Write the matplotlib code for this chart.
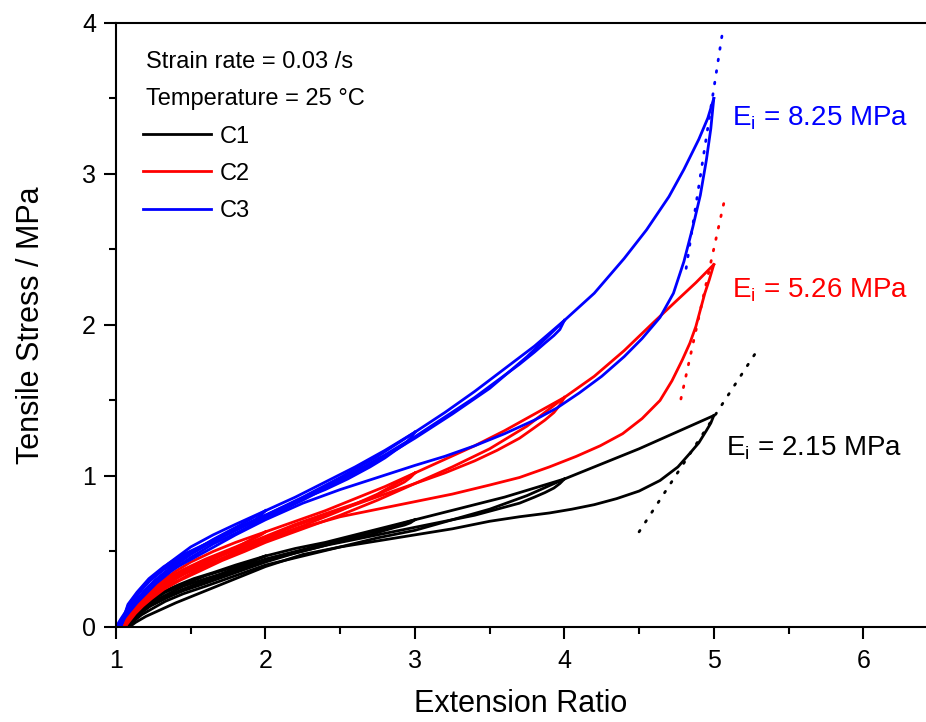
import matplotlib

matplotlib.use("Agg")
import matplotlib.pyplot as plt
from matplotlib.ticker import MultipleLocator

# values: extension ratio vs tensile stress (MPa)
# per compound: first loading, unloading from each max ratio (2, 3, 4, 5)
# and the reloading passes (up to the previous max ratio)
C1_LOAD_X = [1.06, 1.09, 1.13, 1.18, 1.25, 1.33, 1.42, 1.52, 1.65, 1.80, 2.00,
             2.20, 2.40, 2.60, 2.80, 3.00, 3.20, 3.40, 3.60, 3.80, 4.00, 4.25,
             4.50, 4.75, 5.00]
C1_LOAD_Y = [0.00, 0.04, 0.09, 0.14, 0.19, 0.24, 0.28, 0.32, 0.36, 0.41, 0.47,
             0.52, 0.56, 0.61, 0.66, 0.71, 0.76, 0.81, 0.86, 0.92, 0.98, 1.08,
             1.18, 1.29, 1.40]
C1_UNLOAD_X = [
    [2.00, 1.97, 1.93, 1.87, 1.80, 1.70, 1.60, 1.45, 1.33, 1.23, 1.16, 1.11, 1.07],
    [3.00, 2.97, 2.93, 2.87, 2.80, 2.70, 2.55, 2.40, 2.20, 2.00, 1.80, 1.60,
     1.45, 1.33, 1.23, 1.16, 1.11, 1.07],
    [4.00, 3.97, 3.93, 3.87, 3.80, 3.70, 3.55, 3.40, 3.20, 3.00, 2.80, 2.60,
     2.40, 2.20, 2.00, 1.80, 1.60, 1.45, 1.33, 1.23, 1.16, 1.11, 1.08],
    [5.00, 4.98, 4.95, 4.90, 4.84, 4.76, 4.64, 4.50, 4.35, 4.20, 4.05, 3.90,
     3.70, 3.50, 3.25, 3.00, 2.75, 2.50, 2.25, 2.00, 1.80, 1.60, 1.50, 1.40,
     1.30, 1.20, 1.13, 1.09],
]
C1_UNLOAD_Y = [
    [0.47, 0.46, 0.44, 0.42, 0.40, 0.37, 0.34, 0.28, 0.23, 0.17, 0.12, 0.07, 0.00],
    [0.71, 0.69, 0.675, 0.66, 0.64, 0.61, 0.58, 0.55, 0.50, 0.45, 0.38, 0.32,
     0.27, 0.21, 0.16, 0.11, 0.06, 0.00],
    [0.98, 0.95, 0.92, 0.89, 0.86, 0.82, 0.78, 0.74, 0.70, 0.66, 0.62, 0.58,
     0.54, 0.49, 0.44, 0.37, 0.30, 0.25, 0.19, 0.14, 0.09, 0.05, 0.00],
    [1.40, 1.35, 1.30, 1.22, 1.15, 1.06, 0.97, 0.90, 0.85, 0.81, 0.78, 0.755,
     0.73, 0.70, 0.65, 0.61, 0.57, 0.53, 0.48, 0.40, 0.32, 0.24, 0.20, 0.16,
     0.115, 0.07, 0.03, 0.00],
]
C1_RELOAD_X = [
    [1.07, 1.11, 1.16, 1.23, 1.33, 1.45, 1.60, 1.80, 2.00],
    [1.07, 1.11, 1.16, 1.23, 1.33, 1.45, 1.60, 1.80, 2.00, 2.20, 2.40, 2.60,
     2.80, 3.00],
    [1.08, 1.12, 1.17, 1.24, 1.33, 1.45, 1.60, 1.80, 2.00, 2.25, 2.50, 2.75,
     3.00, 3.25, 3.50, 3.75, 4.00],
]
C1_RELOAD_Y = [
    [0.00, 0.05, 0.10, 0.15, 0.20, 0.25, 0.31, 0.39, 0.47],
    [0.00, 0.04, 0.09, 0.14, 0.19, 0.24, 0.29, 0.36, 0.43, 0.49, 0.54, 0.60,
     0.65, 0.71],
    [0.00, 0.04, 0.08, 0.12, 0.17, 0.22, 0.27, 0.34, 0.41, 0.47, 0.53, 0.59,
     0.64, 0.71, 0.78, 0.87, 0.98],
]

C2_LOAD_X = [1.04, 1.07, 1.11, 1.16, 1.22, 1.30, 1.40, 1.50, 1.65, 1.80, 2.00,
             2.20, 2.40, 2.60, 2.80, 3.00, 3.20, 3.40, 3.60, 3.80, 4.00, 4.20,
             4.40, 4.60, 4.75, 4.88, 5.00]
C2_LOAD_Y = [0.00, 0.05, 0.11, 0.17, 0.23, 0.30, 0.37, 0.43, 0.50, 0.56, 0.63,
             0.70, 0.77, 0.85, 0.93, 1.02, 1.11, 1.20, 1.30, 1.41, 1.52, 1.66,
             1.83, 2.02, 2.16, 2.28, 2.40]
C2_UNLOAD_X = [
    [2.00, 1.97, 1.93, 1.87, 1.80, 1.70, 1.60, 1.45, 1.32, 1.22, 1.15, 1.10, 1.06],
    [3.00, 2.97, 2.93, 2.87, 2.80, 2.70, 2.55, 2.40, 2.20, 2.00, 1.80, 1.60,
     1.45, 1.32, 1.22, 1.15, 1.10, 1.06],
    [4.00, 3.97, 3.93, 3.87, 3.80, 3.70, 3.55, 3.40, 3.20, 3.00, 2.80, 2.60,
     2.40, 2.20, 2.00, 1.80, 1.60, 1.45, 1.32, 1.22, 1.15, 1.10, 1.06],
    [5.00, 4.97, 4.94, 4.91, 4.88, 4.84, 4.79, 4.72, 4.64, 4.52, 4.39, 4.24,
     4.08, 3.90, 3.70, 3.50, 3.25, 3.00, 2.75, 2.50, 2.25, 2.00, 1.80, 1.60,
     1.45, 1.32, 1.22, 1.15, 1.10, 1.06],
]
C2_UNLOAD_Y = [
    [0.63, 0.61, 0.59, 0.56, 0.53, 0.49, 0.45, 0.38, 0.31, 0.24, 0.17, 0.10, 0.00],
    [1.02, 0.99, 0.96, 0.93, 0.90, 0.85, 0.80, 0.75, 0.68, 0.60, 0.52, 0.44,
     0.37, 0.30, 0.23, 0.16, 0.09, 0.00],
    [1.52, 1.47, 1.42, 1.37, 1.32, 1.25, 1.17, 1.10, 1.02, 0.95, 0.88, 0.81,
     0.74, 0.67, 0.59, 0.51, 0.43, 0.36, 0.29, 0.22, 0.15, 0.09, 0.00],
    [2.40, 2.30, 2.21, 2.10, 1.99, 1.88, 1.77, 1.63, 1.50, 1.38, 1.28, 1.20,
     1.13, 1.06, 0.99, 0.94, 0.88, 0.83, 0.78, 0.73, 0.66, 0.57, 0.49, 0.41,
     0.35, 0.28, 0.21, 0.14, 0.08, 0.00],
]
C2_RELOAD_X = [
    [1.05, 1.08, 1.12, 1.17, 1.23, 1.31, 1.42, 1.55, 1.70, 1.85, 2.00],
    [1.05, 1.08, 1.12, 1.17, 1.23, 1.31, 1.42, 1.55, 1.70, 1.85, 2.00, 2.25,
     2.50, 2.75, 3.00],
    [1.06, 1.09, 1.13, 1.18, 1.24, 1.32, 1.43, 1.56, 1.71, 1.86, 2.00, 2.25,
     2.50, 2.75, 3.00, 3.25, 3.50, 3.75, 4.00],
]
C2_RELOAD_Y = [
    [0.00, 0.05, 0.10, 0.15, 0.20, 0.26, 0.33, 0.40, 0.47, 0.55, 0.63],
    [0.00, 0.04, 0.09, 0.14, 0.19, 0.25, 0.31, 0.38, 0.45, 0.52, 0.58, 0.67,
     0.77, 0.88, 1.02],
    [0.00, 0.04, 0.09, 0.14, 0.19, 0.25, 0.31, 0.37, 0.44, 0.50, 0.56, 0.65,
     0.74, 0.84, 0.95, 1.06, 1.18, 1.33, 1.52],
]

C3_LOAD_X = [1.00, 1.03, 1.07, 1.12, 1.18, 1.25, 1.35, 1.50, 1.65, 1.80, 2.00,
             2.20, 2.40, 2.60, 2.80, 3.00, 3.20, 3.40, 3.60, 3.80, 4.00, 4.20,
             4.40, 4.55, 4.70, 4.80, 4.90, 4.96, 5.00]
C3_LOAD_Y = [0.00, 0.05, 0.11, 0.18, 0.26, 0.33, 0.42, 0.53, 0.61, 0.68, 0.77,
             0.86, 0.96, 1.06, 1.17, 1.29, 1.42, 1.56, 1.71, 1.86, 2.03, 2.21,
             2.44, 2.63, 2.85, 3.03, 3.23, 3.37, 3.50]
C3_UNLOAD_X = [
    [2.00, 1.97, 1.93, 1.87, 1.80, 1.70, 1.60, 1.45, 1.32, 1.22, 1.14, 1.08, 1.03],
    [3.00, 2.97, 2.93, 2.87, 2.80, 2.70, 2.55, 2.40, 2.20, 2.00, 1.80, 1.60,
     1.45, 1.32, 1.22, 1.14, 1.08, 1.03],
    [4.00, 3.97, 3.93, 3.87, 3.80, 3.70, 3.55, 3.40, 3.20, 3.00, 2.80, 2.60,
     2.40, 2.20, 2.00, 1.80, 1.60, 1.45, 1.32, 1.22, 1.14, 1.08, 1.03],
    [5.00, 4.98, 4.95, 4.91, 4.86, 4.80, 4.73, 4.64, 4.52, 4.40, 4.25, 4.10,
     3.95, 3.80, 3.60, 3.40, 3.20, 3.00, 2.75, 2.50, 2.25, 2.00, 1.80, 1.60,
     1.45, 1.32, 1.22, 1.14, 1.08, 1.03],
]
C3_UNLOAD_Y = [
    [0.77, 0.74, 0.71, 0.68, 0.65, 0.60, 0.55, 0.48, 0.40, 0.32, 0.23, 0.15, 0.00],
    [1.29, 1.25, 1.21, 1.17, 1.12, 1.06, 0.98, 0.91, 0.83, 0.74, 0.65, 0.55,
     0.47, 0.39, 0.31, 0.22, 0.14, 0.00],
    [2.03, 1.97, 1.93, 1.88, 1.82, 1.74, 1.63, 1.52, 1.39, 1.26, 1.14, 1.03,
     0.93, 0.83, 0.73, 0.64, 0.54, 0.46, 0.38, 0.30, 0.21, 0.13, 0.00],
    [3.50, 3.30, 3.09, 2.86, 2.65, 2.42, 2.21, 2.05, 1.91, 1.79, 1.66, 1.55,
     1.45, 1.37, 1.28, 1.20, 1.13, 1.07, 0.99, 0.91, 0.82, 0.71, 0.61, 0.50,
     0.42, 0.35, 0.27, 0.18, 0.11, 0.00],
]
C3_RELOAD_X = [
    [1.01, 1.04, 1.08, 1.13, 1.19, 1.26, 1.36, 1.50, 1.65, 1.82, 2.00],
    [1.01, 1.04, 1.08, 1.13, 1.19, 1.26, 1.36, 1.50, 1.65, 1.82, 2.00, 2.25,
     2.50, 2.75, 3.00],
    [1.02, 1.05, 1.09, 1.14, 1.20, 1.27, 1.37, 1.50, 1.65, 1.82, 2.00, 2.25,
     2.50, 2.75, 3.00, 3.25, 3.50, 3.75, 4.00],
]
C3_RELOAD_Y = [
    [0.00, 0.05, 0.11, 0.17, 0.24, 0.31, 0.39, 0.49, 0.58, 0.67, 0.77],
    [0.00, 0.05, 0.10, 0.16, 0.23, 0.30, 0.38, 0.48, 0.57, 0.65, 0.74, 0.86,
     0.99, 1.13, 1.29],
    [0.00, 0.05, 0.10, 0.16, 0.22, 0.29, 0.37, 0.46, 0.55, 0.63, 0.72, 0.84,
     0.97, 1.10, 1.25, 1.41, 1.58, 1.79, 2.03],
]

# initial-modulus tangent lines (dotted), one per compound
FIT_X = [[4.50, 5.29], [4.78, 5.07], [4.815, 5.057]]
FIT_Y = [[0.63, 1.83], [1.51, 2.82], [2.375, 3.93]]
MODULI = ["2.15", "5.26", "8.25"]
LABEL_POS = [(5.082, 1.139), (5.122, 2.183), (5.122, 3.325)]

NAMES = ["C1", "C2", "C3"]
COLORS = ["black", "#ff0000", "#0000ff"]
LW = 2.0

plt.rcParams["font.family"] = ["Liberation Sans", "DejaVu Sans"]
plt.rcParams["mathtext.fontset"] = "custom"
plt.rcParams["mathtext.rm"] = "Liberation Sans"

fig = plt.figure(figsize=(9.26, 7.22), dpi=100)
ax = fig.add_axes([0.1253, 0.1316, 0.8747, 0.8366])

loads = [(C1_LOAD_X, C1_LOAD_Y), (C2_LOAD_X, C2_LOAD_Y), (C3_LOAD_X, C3_LOAD_Y)]
unloads = [(C1_UNLOAD_X, C1_UNLOAD_Y), (C2_UNLOAD_X, C2_UNLOAD_Y),
           (C3_UNLOAD_X, C3_UNLOAD_Y)]
reloads = [(C1_RELOAD_X, C1_RELOAD_Y), (C2_RELOAD_X, C2_RELOAD_Y),
           (C3_RELOAD_X, C3_RELOAD_Y)]
handles = []
for i in range(3):
    lx, ly = loads[i]
    h, = ax.plot(lx, ly, color=COLORS[i], lw=LW, label=NAMES[i])
    handles.append(h)
    for ux, uy in zip(*unloads[i]):
        ax.plot(ux, uy, color=COLORS[i], lw=LW)
    for rx, ry in zip(*reloads[i]):
        ax.plot(rx, ry, color=COLORS[i], lw=LW)
    ax.plot(FIT_X[i], FIT_Y[i], color=COLORS[i], lw=2, ls=(0, (0.6, 3.6)),
            dash_capstyle="round")
    ax.text(*LABEL_POS[i], r"E$_\mathregular{i}$ = " + MODULI[i] + " MPa",
            color=COLORS[i], fontsize=20, va="baseline", ha="left")

ax.set_xlim(1, 6.42)
ax.set_ylim(0, 4)
ax.xaxis.set_major_locator(MultipleLocator(1))
ax.xaxis.set_minor_locator(MultipleLocator(0.5))
ax.yaxis.set_major_locator(MultipleLocator(1))
ax.yaxis.set_minor_locator(MultipleLocator(0.5))
ax.tick_params(which="major", direction="out", length=8.5, width=1.5, labelsize=18)
ax.tick_params(which="minor", direction="out", length=5, width=1.5)
ax.tick_params(axis="x", which="major", pad=7)
ax.tick_params(axis="y", which="major", pad=6)
ax.tick_params(top=False, right=False)
for side in ["left", "bottom", "top"]:
    ax.spines[side].set_linewidth(1.5)
ax.spines["right"].set_visible(False)

ax.set_xlabel("Extension Ratio", fontsize=22, labelpad=12)
ax.set_ylabel("Tensile Stress / MPa", fontsize=22, labelpad=26)

ax.text(0.037, 0.935, "Strain rate = 0.03 /s", transform=ax.transAxes,
        fontsize=17, va="center")
ax.text(0.037, 0.874, "Temperature = 25 \u00b0C", transform=ax.transAxes,
        fontsize=17, va="center")
ax.legend(handles=handles, loc="upper left", bbox_to_anchor=(0.033, 0.830),
          frameon=False, prop={"size": 17}, handlelength=2.9,
          handletextpad=0.35, labelspacing=0.64, borderpad=0, borderaxespad=0)

fig.savefig("out.png", dpi=100)
